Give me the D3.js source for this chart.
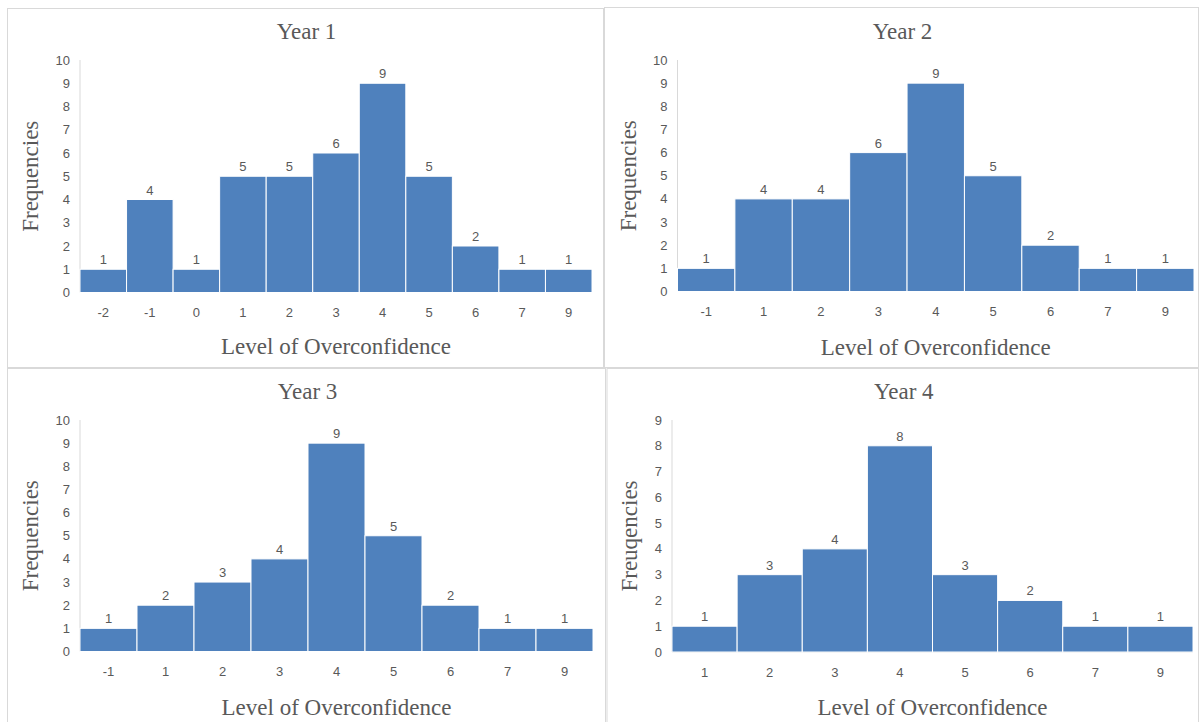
<!DOCTYPE html>
<html>
<head>
<meta charset="utf-8">
<script src="https://cdn.jsdelivr.net/npm/d3@7"></script>
<style>
  body { margin: 0; background: #fff; }
  .tick-label { font-family: "Liberation Sans", Arial, sans-serif; font-size: 13px; fill: #595959; }
  .title { font-family: "Liberation Serif", "Times New Roman", serif; font-size: 23px; fill: #595959; }
</style>
</head>
<body>
<svg id="chart" width="1199" height="722"></svg>
<script>
// histogram data, one small set per year
const year1Levels = ["-2", "-1", "0", "1", "2", "3", "4", "5", "6", "7", "9"];
const year1Freq = [1, 4, 1, 5, 5, 6, 9, 5, 2, 1, 1];

const year2Levels = ["-1", "1", "2", "3", "4", "5", "6", "7", "9"];
const year2Freq = [1, 4, 4, 6, 9, 5, 2, 1, 1];

const year3Levels = ["-1", "1", "2", "3", "4", "5", "6", "7", "9"];
const year3Freq = [1, 2, 3, 4, 9, 5, 2, 1, 1];

const year4Levels = ["1", "2", "3", "4", "5", "6", "7", "9"];
const year4Freq = [1, 3, 4, 8, 3, 2, 1, 1];

const titles = ["Year 1", "Year 2", "Year 3", "Year 4"];
const yTitles = ["Frequencies", "Frequencies", "Frequencies", "Freuqencies"];
const yMaxes = [10, 10, 10, 9];
const xTitle = "Level of Overconfidence";

// panel layout
const panels = [
  {frame: [7.5, 8.5, 603.5, 367.5], plot: {left: 80, right: 592, top: 60, bottom: 292.5}, titleY: 31, xTitleY: 346, yTitleX: 30},
  {frame: [604.5, 7.5, 1198.5, 367.5], plot: {left: 677.5, right: 1194, top: 60, bottom: 291.5}, titleY: 31, xTitleY: 347, yTitleX: 628},
  {frame: [7.5, 368.5, 605.5, 730], plot: {left: 80, right: 593, top: 420, bottom: 651.5}, titleY: 391, xTitleY: 707, yTitleX: 30},
  {frame: [607, 368.5, 1198.5, 730], plot: {left: 672, right: 1193, top: 420, bottom: 652}, titleY: 391, xTitleY: 707, yTitleX: 629}
];

const levels = [year1Levels, year2Levels, year3Levels, year4Levels];
const freqs = [year1Freq, year2Freq, year3Freq, year4Freq];

const svg = d3.select("#chart");

panels.forEach((p, i) => drawPanel(p, i));

function drawPanel(p, i) {
  const g = svg.append("g");
  const [x0, y0, x1, y1] = p.frame;

  g.append("rect")
    .attr("x", x0).attr("y", y0)
    .attr("width", x1 - x0).attr("height", y1 - y0)
    .attr("fill", "#fff")
    .attr("stroke", "#d9d9d9")
    .attr("stroke-width", 1);

  const data = levels[i].map((lvl, k) => ({level: lvl, freq: freqs[i][k]}));

  const x = d3.scaleBand()
    .domain(levels[i])
    .range([p.plot.left, p.plot.right])
    .padding(0);

  const y = d3.scaleLinear()
    .domain([0, yMaxes[i]])
    .range([p.plot.bottom, p.plot.top]);

  // y axis line
  g.append("line")
    .attr("x1", p.plot.left).attr("x2", p.plot.left)
    .attr("y1", p.plot.top).attr("y2", p.plot.bottom)
    .attr("stroke", "#d9d9d9");

  // y tick labels
  g.selectAll(".ytick")
    .data(d3.range(0, yMaxes[i] + 1))
    .enter().append("text")
    .attr("class", "tick-label")
    .attr("x", p.plot.left - 10)
    .attr("y", d => y(d))
    .attr("dy", "0.35em")
    .attr("text-anchor", "end")
    .text(d => d);

  // baseline
  g.append("line")
    .attr("x1", p.plot.left).attr("x2", p.plot.right)
    .attr("y1", p.plot.bottom).attr("y2", p.plot.bottom)
    .attr("stroke", "#d9d9d9");

  // bars
  g.selectAll(".bar")
    .data(data)
    .enter().append("rect")
    .attr("class", "bar")
    .attr("x", d => x(d.level))
    .attr("y", d => y(d.freq))
    .attr("width", x.bandwidth())
    .attr("height", d => y(0) - y(d.freq))
    .attr("fill", "#4f81bd")
    .attr("stroke", "#fff")
    .attr("stroke-width", 1);

  // data labels
  g.selectAll(".bar-label")
    .data(data)
    .enter().append("text")
    .attr("class", "tick-label")
    .attr("x", d => x(d.level) + x.bandwidth() / 2)
    .attr("y", d => y(d.freq) - 5)
    .attr("text-anchor", "middle")
    .text(d => d.freq);

  // x tick labels
  g.selectAll(".xtick")
    .data(levels[i])
    .enter().append("text")
    .attr("class", "tick-label")
    .attr("x", d => x(d) + x.bandwidth() / 2)
    .attr("y", p.plot.bottom + 20)
    .attr("dy", "0.35em")
    .attr("text-anchor", "middle")
    .text(d => d);

  // titles
  g.append("text")
    .attr("class", "title")
    .attr("x", (x0 + x1) / 2 + 1)
    .attr("y", p.titleY)
    .attr("dy", "0.35em")
    .attr("text-anchor", "middle")
    .text(titles[i]);

  g.append("text")
    .attr("class", "title")
    .attr("x", (p.plot.left + p.plot.right) / 2)
    .attr("y", p.xTitleY)
    .attr("dy", "0.35em")
    .attr("text-anchor", "middle")
    .text(xTitle);

  g.append("text")
    .attr("class", "title")
    .attr("transform", `translate(${p.yTitleX}, ${(p.plot.top + p.plot.bottom) / 2}) rotate(-90)`)
    .attr("dy", "0.35em")
    .attr("text-anchor", "middle")
    .text(yTitles[i]);
}
</script>
</body>
</html>
